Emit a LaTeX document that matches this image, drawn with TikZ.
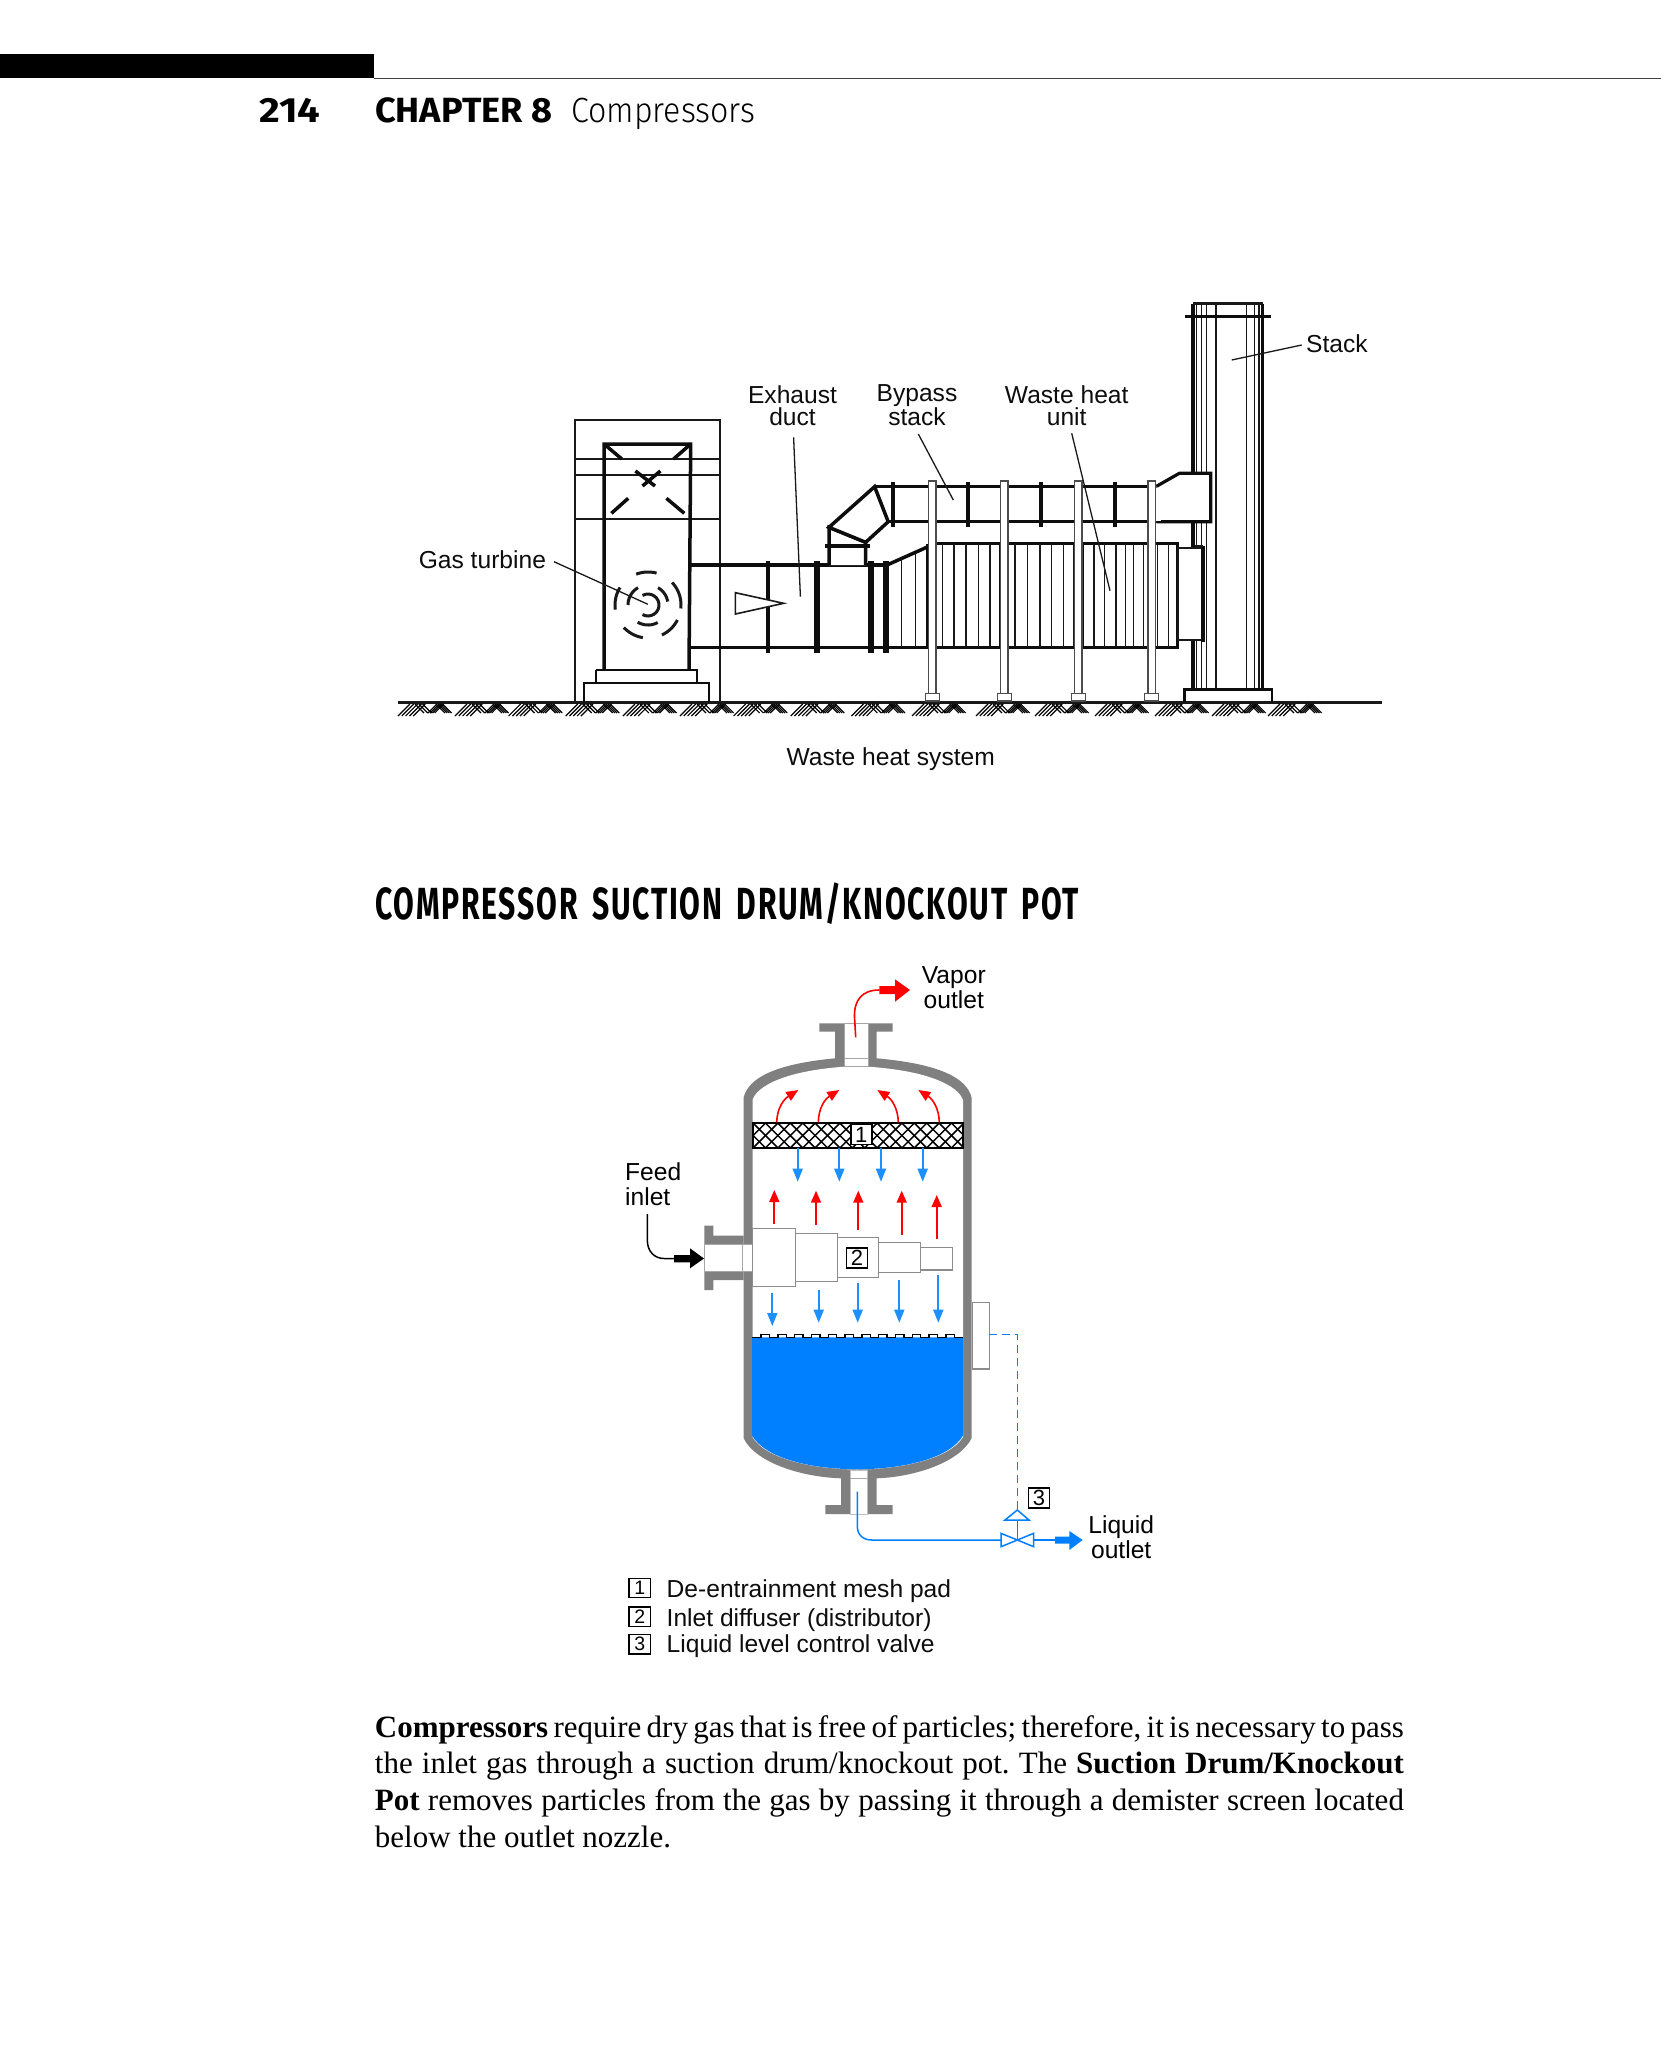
\documentclass[tikz,border=0pt]{standalone}
\usepackage{graphicx}
\usepackage{fontspec}
\setmainfont{Liberation Sans}
\newfontfamily\bodyserif{Liberation Serif}
\newfontfamily\headfont{Fira Sans}
\newfontfamily\headlight{Fira Sans Light}
\newfontfamily\headspaced[LetterSpace=6,WordSpace=1.6]{Fira Sans}
\usetikzlibrary{arrows.meta,calc}
\definecolor{wallgray}{HTML}{808080}
\definecolor{flowblue}{HTML}{1E8FFF}
\definecolor{liquidblue}{HTML}{007FFF}
\definecolor{flowred}{HTML}{FF0000}
\newcommand{\fitw}[2]{\resizebox{#1}{\height}{#2}}
\tikzset{
  thinln/.style={line width=1.5pt,black!90},
  medln/.style={line width=2pt,black!90},
  heavy/.style={line width=3.5pt,black!95},
  flange/.style={line width=6pt,black!95},
  leader/.style={line width=1.3pt,black!90},
  lab/.style={inner sep=0pt,align=center,anchor=base,font=\fontsize{24.6}{22}\selectfont,black!95},
  lab2/.style={inner sep=0pt,align=center,anchor=base,font=\fontsize{24.6}{25}\selectfont,black},
  numbox/.style={draw=black,line width=1.7pt,fill=white,inner sep=0pt,minimum width=21pt,minimum height=20pt,font=\fontsize{22}{22}\selectfont},
  keybox/.style={draw=black,line width=1.3pt,fill=white,inner sep=0pt,minimum width=21.5pt,minimum height=19.5pt,font=\fontsize{19.5}{19.5}\selectfont},
  keytxt/.style={inner sep=0pt,anchor=base west,font=\fontsize{24.6}{24.6}\selectfont,black!95},
  graybox/.style={draw=black!45,line width=1.5pt,fill=white},
  bluedown/.style={flowblue,line width=1.7pt,-{Triangle[length=13pt,width=10pt]}},
  redup/.style={flowred,line width=1.7pt,-{Triangle[length=12pt,width=10pt]}},
  redcurve/.style={flowred,line width=1.6pt,-{Triangle[length=12pt,width=10pt]}},
  blueline/.style={liquidblue,line width=1.5pt},
}
\begin{document}
\begin{tikzpicture}[x=1pt,y=-1pt]
\useasboundingbox (0,0) rectangle (1661,2048);
\fill[white] (0,0) rectangle (1661,2048);
% --- page header
\fill[black] (0,53.5) rectangle (374,78);
\draw[line width=1.8pt,black!75] (374,78.5) -- (1661,78.5);
\node[inner sep=0pt,anchor=base west] (pageno) at (259,122) {\fitw{61pt}{\headfont\bfseries\fontsize{35}{35}\selectfont 214}};
\node[inner sep=0pt,anchor=base west] (chap) at (375,122) {\fitw{177pt}{\headfont\bfseries\fontsize{35}{35}\selectfont CHAPTER 8}};
\node[inner sep=0pt,anchor=base west] (chapname) at (571,122) {\fitw{184pt}{\headlight\fontsize{35}{35}\selectfont Compressors}};
% --- ground
\draw[line width=3pt,black!90] (398,702) -- (1382,702);
\foreach \g in {398,455,508.6,565.7,622.9,680,733.6,790.7,851.4,912,976,1035,1095,1155,1212,1268}{
  \foreach \i in {0,...,4}{\draw[line width=1.2pt,black] ({\g+\i*3.8},716) -- ++(12,-12);}
  \foreach \i in {0,1,2}{\draw[line width=1.2pt,black] ({\g+17+\i*3.8},704) -- ++(9,9);}
  \foreach \i in {0,...,3}{\draw[line width=1.2pt,black] ({\g+30+\i*2.2},713) -- ++(9,-9);}
  \foreach \i in {0,...,3}{\draw[line width=1.2pt,black] ({\g+38+\i*2.2},704) -- ++(9,9);}
}
% --- turbine building
\draw[medln] (575,702) -- (575,420) -- (720,420) -- (720,702);
\foreach \yy in {459.3,475,518.7}{\draw[medln] (575,\yy) -- (720,\yy);}
\draw[heavy] (604,670) -- (604,444) -- (690.7,444) -- (689,670);
\draw[heavy] (604,444) -- (621.8,459);
\draw[heavy] (690.7,444) -- (673.6,459);
\draw[heavy] (635.4,471) -- (655,486);
\draw[heavy] (660.4,471) -- (642.5,486);
\draw[heavy] (628.2,498.3) -- (611.4,513.3);
\draw[heavy] (666.4,498.3) -- (684.3,513.3);
\foreach \ra/\aa/\ab in {33/75/111,33/-6/43,33/-65/-27,33/-137/-99,33/148/188,20/10/60,20/120/180,20/-121/-61,11/-120/120}{
  \draw[line width=3pt,black!90] plot[domain=\aa:\ab,samples=16] ({648+\ra*cos(\x)},{605-\ra*sin(\x)});
}
\draw[heavy,line width=2.8pt] (596,670) -- (697,670) -- (697,683);
\draw[heavy,line width=2.8pt] (596,670) -- (596,683);
\draw[heavy,line width=2.8pt] (584,702) -- (584,683) -- (709,683) -- (709,702);
% --- stack
\foreach \xx in {1196.7,1201.7,1206.7,1216,1246.7,1254.3,1259}{\draw[thinln] (\xx,304) -- (\xx,689);}
\draw[line width=4pt,black!95] (1193.3,689) -- (1193.3,303.5);
\draw[line width=2.4pt,black!90] (1193.3,303.5) -- (1262.7,303.5);
\draw[line width=3pt,black!95] (1262.7,303.5) -- (1262.7,689);
\draw[heavy] (1185.3,316.7) -- (1271,316.7);
\draw[heavy,line width=2.8pt] (1184.5,702) -- (1184.5,689.5) -- (1272,689.5) -- (1272,702);
% --- exhaust duct
\draw[heavy] (690,565) -- (887,565);
\draw[heavy] (690,647.7) -- (928,647.7);
\draw[line width=4.5pt,black!95] (767.9,561) -- (767.9,653);
\draw[flange] (816.8,561) -- (816.8,653);
\draw[flange] (870.7,561) -- (870.7,653);
\draw[flange] (885.7,561) -- (885.7,653);
\filldraw[draw=black!90,line width=1.6pt,fill=white] (735.4,592.7) -- (783.6,603.3) -- (735.4,614) -- cycle;
% --- transition and waste heat unit
\draw[heavy] (887,565) -- (928,546.7);
\draw[thinln] (901.4,559) -- (901.4,647);
\draw[thinln] (915.7,552.5) -- (915.7,647);
\draw[heavy] (928,543.3) -- (1177.7,543.3) -- (1177.7,647.7) -- (928,647.7);
\foreach \xx in {942.3,954,966,978.7,990,1015,1027.7,1040,1051.7,1063.3,1073.3,1094,1104.7,1116,1125.7,1133.3,1143.3,1157.3,1168.3}{\draw[thinln] (\xx,544) -- (\xx,647);}
\foreach \xx in {927.5,1000.7,1082}{\draw[heavy] (\xx,544) -- (\xx,648);}
% connector to stack
\filldraw[draw=black!90,line width=2.2pt,fill=white] (1177.7,548.3) rectangle (1202.7,640);
\draw[line width=4pt,black!95] (1202.7,546) -- (1202.7,642);
\draw[line width=2pt,black!90] (1195,546) -- (1203,546);
% --- bypass
\draw[heavy,fill=white] (829,565) -- (829,527.3) -- (865.7,542.3) -- (865.7,565);
\draw[heavy,fill=white] (829,527.3) -- (874.6,486.7) -- (888.2,521.7) -- (865.7,542.3) -- cycle;
\draw[heavy] (824.6,546) -- (870.4,546);
\draw[heavy] (874.6,486.7) -- (1156.7,486.7);
\draw[heavy] (888.2,521.7) -- (1180,521.7);
\filldraw[draw=black!95,line width=3.2pt,fill=white] (1156.7,486.2) -- (1179.3,473.3) -- (1210.7,473.3) -- (1210.7,521.7) -- (1156.7,521.7);
\draw[line width=0pt,white,fill=white] (1155,489) rectangle (1160,520);
\foreach \xx in {892.9,968,1041,1115}{\draw[line width=3.6pt,black!95] (\xx,481.7) -- (\xx,526.7);}
% --- posts
\foreach \xx in {932.3,1004.3,1078.3,1151.7}{
  \filldraw[draw=black!70,line width=1.4pt,fill=white] (\xx-3.6,693) -- (\xx-3.6,481) -- (\xx+3.6,481) -- (\xx+3.6,693);
  \filldraw[draw=black!70,line width=1.4pt,fill=white] (\xx-7,701) rectangle (\xx+7,693.5);
}
% --- pointer labels
\node[lab] (lexh) at (792.5,425) {Exhaust\\duct};
\node[lab] (lbyp) at (917,425) {Bypass\\stack};
\node[lab] (lwst) at (1066.7,425) {Waste heat\\unit};
\node[inner sep=0pt,anchor=base west,font=\fontsize{24.6}{24.6}\selectfont,black!95] (lstk) at (1306,352.7) {Stack};
\node[inner sep=0pt,anchor=base west,font=\fontsize{24.6}{24.6}\selectfont,black!95] (lgas) at (418.6,568) {Gas turbine};
\node[inner sep=0pt,anchor=base,font=\fontsize{24.6}{24.6}\selectfont,black!95] (lsys) at (890.7,765) {Waste heat system};
\coordinate (pe0) at (793.6,437.3); \coordinate (pe1) at (800.4,596.7);
\coordinate (pb0) at (918.3,434); \coordinate (pb1) at (953.3,500);
\coordinate (pw0) at (1071.7,433.3); \coordinate (pw1) at (1110,590.7);
\coordinate (ps0) at (1301.7,345); \coordinate (ps1) at (1231.7,360);
\coordinate (pg0) at (554,561.7); \coordinate (pg1) at (647.9,604.3);
\draw[leader] (pe0) -- (pe1);
\draw[leader] (pb0) -- (pb1);
\draw[leader] (pw0) -- (pw1);
\draw[leader] (ps0) -- (ps1);
\draw[leader] (pg0) -- (pg1);
% --- heading
\node[inner sep=0pt,anchor=base west] (head) at (375,919) {\fitw{704pt}{\headspaced\bfseries\fontsize{45}{45}\selectfont COMPRESSOR SUCTION DRUM/KNOCKOUT POT}};
% --- vessel
\fill[wallgray] (743.5,1438) -- (743.5,1098)
  .. controls (748,1078) and (775,1064) .. (835,1058.3) -- (835,1031.7) -- (819.3,1031.7) -- (819.3,1023.3) -- (892.7,1023.3) -- (892.7,1031.7) -- (876.7,1031.7) -- (876.7,1058.3)
  .. controls (940,1064) and (967,1078) .. (971.7,1098) -- (971.7,1438)
  .. controls (960,1462) and (915,1477) .. (876.7,1478.3) -- (876.7,1505) -- (892.7,1505) -- (892.7,1514) -- (825.3,1514) -- (825.3,1505) -- (841,1505) -- (841,1478.3)
  .. controls (800,1477) and (755,1462) .. cycle;
% side nozzle
\fill[wallgray] (743.7,1235.7) -- (713.3,1235.7) -- (713.3,1225.7) -- (704.3,1225.7) -- (704.3,1290) -- (713.3,1290) -- (713.3,1280) -- (743.7,1280) -- cycle;
% vessel interior
\fill[white] (752.5,1437) -- (752.5,1100) .. controls (757,1086) and (785,1071) .. (844,1066.7) -- (868.3,1066.7) .. controls (930,1071) and (958,1086) .. (963,1100) -- (963,1437) .. controls (950,1458) and (905,1469) .. (857,1469.5) .. controls (810,1469) and (765,1458) .. cycle;
% liquid
\fill[liquidblue] (752,1337.3) -- (963,1337.3) -- (963,1435.5) .. controls (950,1458) and (905,1469) .. (857,1469.3) .. controls (810,1469) and (765,1458) .. (752,1435.5) -- cycle;
\draw[line width=1.4pt,black] (752,1337.3) foreach \c in {0,...,11}{ -- ({761+\c*16.8},1337.3) -- ({761+\c*16.8},1334.3) -- ({769.4+\c*16.8},1334.3) -- ({769.4+\c*16.8},1337.3)} -- (963,1337.3);
% nozzle bores
\filldraw[draw=black!35,line width=1pt,fill=white] (844,1023.5) rectangle (868.3,1066.5);
\draw[draw=black!35,line width=1pt] (844,1058.3) -- (868.3,1058.3);
\filldraw[draw=black!25,line width=1pt,fill=white] (850,1470) rectangle (867.7,1514);
\draw[draw=black!35,line width=1pt] (850,1478.3) -- (867.7,1478.3);
\filldraw[draw=black!35,line width=1pt,fill=white] (704.3,1244.3) rectangle (752,1271);
\draw[draw=black!35,line width=1pt] (742.7,1244.3) -- (742.7,1271);
% mesh pad
\fill[white] (752.7,1122.7) rectangle (962.7,1148.3);
\begin{scope}
\clip (752.7,1122.7) rectangle (962.7,1148.3);
\foreach \i in {-3,...,20}{
  \draw[line width=1.5pt,black] ({752.7+\i*12.4},1148.3) -- ++(25.6,-25.6);
  \draw[line width=1.5pt,black] ({752.7+\i*12.4},1122.7) -- ++(25.6,25.6);
}
\end{scope}
\draw[line width=2.2pt,black] (752.7,1122.7) rectangle (962.7,1148.3);
% diffuser
\filldraw[graybox] (752.3,1228.3) rectangle (795.7,1286.7);
\filldraw[graybox] (795.7,1233.3) rectangle (837.7,1281.7);
\filldraw[graybox] (837.7,1237.7) rectangle (878.7,1277.7);
\filldraw[graybox] (878.7,1242.7) rectangle (920.3,1272.7);
\filldraw[graybox] (920.3,1247.3) rectangle (952.7,1270);
% gauge
\filldraw[graybox] (972.7,1302.3) rectangle (989.3,1369);
% number boxes
\node[numbox] (box1) at (861.3,1134.5) {1};
\node[numbox] (box2) at (857,1257.7) {2};
\node[numbox] (box3) at (1039,1498.3) {3};
% red curved arrows
\draw[redcurve] (776.7,1122.3) .. controls (777,1108) and (784,1099) .. (798.3,1090);
\draw[redcurve] (818.3,1122.3) .. controls (818.5,1108) and (825,1099) .. (839.3,1090);
\draw[redcurve] (898.3,1122.3) .. controls (898,1108) and (891.5,1099) .. (877.3,1090);
\draw[redcurve] (939.3,1122.3) .. controls (939,1108) and (932.5,1099) .. (918.3,1090);
% blue arrows under mesh
\foreach \xx in {797.7,839.3,881,922.7}{\draw[bluedown] (\xx,1148.3) -- (\xx,1181.7);}
% red straight arrows
\foreach \xx/\ya/\yb in {774.3/1224/1190,816/1225/1190.7,858.3/1230/1190.7,901.7/1235/1190.7,936.7/1239.3/1195}{\draw[redup] (\xx,\ya) -- (\xx,\yb);}
% blue arrows below diffuser
\foreach \xx/\ya/\yb in {772.3/1293.3/1326,818.7/1290/1322.7,857.7/1283.3/1322.7,899.3/1280/1322.7,938.3/1275/1322.7}{\draw[bluedown] (\xx,\ya) -- (\xx,\yb);}
% vapor outlet arrow
\coordinate (va0) at (855.7,1037.3);
\coordinate (va1) at (879.3,990);
\draw[flowred,line width=1.6pt] (va0) -- (854.5,1017) .. controls (854,1000) and (862,990) .. (va1);
\fill[flowred] (879.3,986) -- (895,986) -- (895,979.3) -- (910,990) -- (895,1001.7) -- (895,994) -- (879.3,994) -- cycle;
% feed arrow
\coordinate (fa0) at (647.3,1214);
\coordinate (fa1) at (674,1258.5);
\draw[black,line width=1.5pt] (fa0) -- (647.3,1240) .. controls (647.3,1252) and (655,1258.5) .. (664,1258.5) -- (fa1);
\fill[black] (674,1255) -- (690,1255) -- (690,1248.3) -- (704,1258.5) -- (690,1268.3) -- (690,1262.3) -- (674,1262.3) -- cycle;
% liquid outlet line, valve
\coordinate (lq0) at (857.3,1491.7);
\coordinate (vl) at (1001,1540);
\coordinate (vr) at (1033.7,1540);
\coordinate (vc) at (1017.3,1540);
\coordinate (da) at (1017.3,1510);
\coordinate (gg) at (989.3,1334.3);
\coordinate (oa) at (1055,1540);
\draw[blueline] (lq0) -- (857.3,1526) .. controls (857.3,1535) and (863,1540) .. (872,1540) -- (vl);
\draw[blueline] (vl) -- (1001,1533.3) -- (1033.7,1546.7) -- (vr) -- (1033.7,1533.3) -- (1001,1546.7) -- cycle;
\draw[blueline] (vr) -- (oa);
\draw[blueline] (vc) -- (1017.3,1520);
\draw[blueline] (da) -- (1005,1520) -- (1029,1520) -- cycle;
\draw[liquidblue,line width=1.4pt,dash pattern=on 8pt off 5pt] (gg) -- (1017.3,1334.3) -- (da);
\fill[liquidblue] (1055,1536.5) -- (1069.3,1536.5) -- (1069.3,1531) -- (1082.7,1540) -- (1069.3,1550) -- (1069.3,1543.5) -- (1055,1543.5) -- cycle;
% labels
\node[lab2] (lvap) at (953.8,1008.3) {Vapor\\outlet};
\node[lab2] (lliq) at (1121.2,1558.3) {Liquid\\outlet};
\node[lab2,align=left,anchor=base west] (lfeed) at (625,1205.5) {Feed\\inlet};
% legend
\node[keybox] (k1) at (639.8,1588) {1};
\node[keybox] (k2) at (639.8,1616.8) {2};
\node[keybox] (k3) at (639.8,1644.2) {3};
\node[keytxt] (t1) at (666.5,1597.7) {De-entrainment mesh pad};
\node[keytxt] (t2) at (666.5,1626) {Inlet diffuser (distributor)};
\node[keytxt] (t3) at (666.5,1652.7) {Liquid level control valve};
% body
\node[inner sep=0pt,anchor=north west,text width=1029pt,align=justify,font=\bodyserif\fontsize{31}{36.7}\selectfont,black] (body) at (374.7,1715) {\frenchspacing\emergencystretch=3em\hbadness=10000\hfuzz=50pt \textbf{Compressors} require dry gas that is free of particles; therefore, it is necessary to pass\linebreak the inlet gas through a suction drum/knockout pot. The \textbf{Suction Drum/Knockout}\linebreak \textbf{Pot} removes particles from the gas by passing it through a demister screen located\linebreak below the outlet nozzle.};
\end{tikzpicture}
\end{document}
